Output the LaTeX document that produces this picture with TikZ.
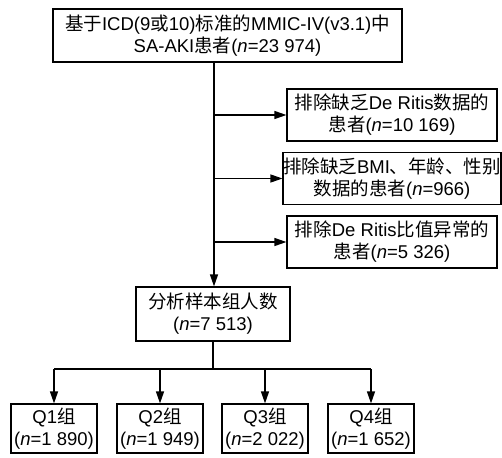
\documentclass[tikz,border=0pt]{standalone}
\usepackage{fontspec}
\setmainfont{Liberation Sans}
\newfontfamily\cjk{Noto Sans CJK SC}
\newcommand\zh[1]{{\cjk #1}}
\usetikzlibrary{arrows.meta}
\begin{document}
\begin{tikzpicture}[x=1pt,y=1pt,
  box/.style={draw, line width=1.2pt, inner sep=0pt, align=center,
    font=\fontsize{18.5}{22}\selectfont},
  link/.style={line width=1.2pt},
  arr/.style={line width=1.2pt, -{Triangle[length=12pt,width=8pt]}}]
\useasboundingbox (0,0) rectangle (502,-457);
\node[box, minimum width=349pt, minimum height=53pt] (top) at (227.5,-35.5)
  {\zh{基于}ICD(9\zh{或}10)\zh{标准的}MMIC-IV(v3.1)\zh{中}\\SA-AKI\zh{患者}(\textit{n}=23 974)};
\node[box, minimum width=210pt, minimum height=52pt] (ex1) at (392,-115)
  {\zh{排除缺乏}De Ritis\zh{数据的}\\\zh{患者}(\textit{n}=10 169)};
\node[box, minimum width=210pt, minimum height=52pt] (ex2) at (392,-178.5)
  {\zh{排除缺乏}BMI\zh{、年龄、性别}\\\zh{数据的患者}(\textit{n}=966)};
\node[box, minimum width=210pt, minimum height=52pt] (ex3) at (392,-242)
  {\zh{排除}De Ritis\zh{比值异常的}\\\zh{患者}(\textit{n}=5 326)};
\node[box, minimum width=154pt, minimum height=54pt] (ana) at (213,-314)
  {\zh{分析样本组人数}\\(\textit{n}=7 513)};
\node[box, minimum width=86pt, minimum height=49pt] (q1) at (54,-428.5)
  {Q1\zh{组}\\(\textit{n}=1 890)};
\node[box, minimum width=86pt, minimum height=49pt] (q2) at (160,-428.5)
  {Q2\zh{组}\\(\textit{n}=1 949)};
\node[box, minimum width=86pt, minimum height=49pt] (q3) at (265,-428.5)
  {Q3\zh{组}\\(\textit{n}=2 022)};
\node[box, minimum width=86pt, minimum height=49pt] (q4) at (371,-428.5)
  {Q4\zh{组}\\(\textit{n}=1 652)};
\coordinate (sp) at (214,0);
\coordinate (bar) at (0,-369);
\draw[arr] (top.south -| sp) -- (ana.north -| sp);
\draw[arr] (ex1.west -| sp) -- (ex1.west);
\draw[arr] (ex2.west -| sp) -- (ex2.west);
\draw[arr] (ex3.west -| sp) -- (ex3.west);
\draw[link] (ana.south) -- (ana.south |- bar);
\draw[link] (q1.north |- bar) -- (q4.north |- bar);
\draw[arr] (q1.north |- bar) -- (q1.north);
\draw[arr] (q2.north |- bar) -- (q2.north);
\draw[arr] (q3.north |- bar) -- (q3.north);
\draw[arr] (q4.north |- bar) -- (q4.north);
\end{tikzpicture}
\end{document}
